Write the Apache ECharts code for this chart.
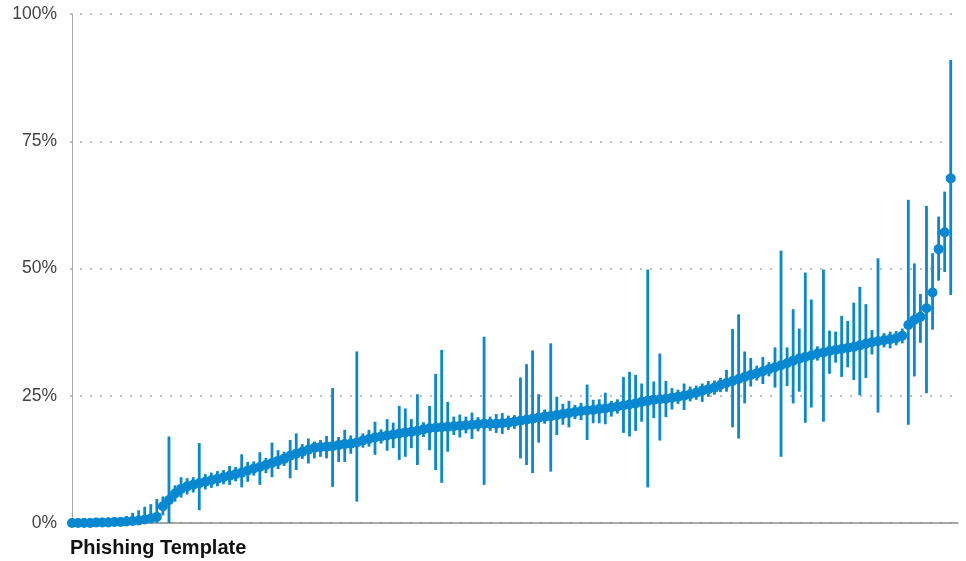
<!DOCTYPE html>
<html><head><meta charset="utf-8">
<script src="https://cdn.jsdelivr.net/npm/echarts@6/dist/echarts.min.js"></script>
<style>html,body{margin:0;padding:0;background:#fff}#c{width:966px;height:561px}</style>
</head><body><div id="c"></div>
<script>
// Click rate (%) per phishing template, sorted ascending
const clickRate = [0,0,0,0,0.1,0.1,0.1,0.2,0.2,0.3, 0.4,0.5,0.7,0.9,1.2,3.3,4.5,5.8,6.7,7.2, 7.5,7.8,8.1,8.4,8.7,9.0,9.3,9.6,9.9,10.3, 10.7,11.0,11.4,11.8,12.2,12.6,13.2,13.6,14.0,14.4, 14.8,14.9,15.0,15.1,15.3,15.5,15.6,15.8,16.2,16.5, 16.8,17.0,17.2,17.4,17.6,17.8,17.9,18.1,18.4,18.6, 18.7,18.8,18.9,19.0,19.1,19.2,19.3,19.4,19.5,19.5, 19.5,19.6,19.7,19.9,20.1,20.3,20.5,20.7,20.9,21.0, 21.2,21.4,21.6,21.8,22.0,22.1,22.2,22.4,22.5,22.7, 22.9,23.1,23.3,23.5,23.8,24.0,24.2,24.3,24.4,24.6, 24.8,25.0,25.3,25.6,26.0,26.3,26.6,27.1,27.5,27.9, 28.3,28.7,29.1,29.4,29.8,30.2,30.6,31.0,31.4,31.9, 32.3,32.6,32.9,33.3,33.5,33.8,34.0,34.2,34.4,34.6, 34.9,35.2,35.5,35.7,35.9,36.1,36.3,36.8,38.9,39.9, 40.5,42.2,45.3,53.8,57.1,67.7];
// Lower bound of the confidence interval (%)
const ciLow = [0,0,0,0,0,0,0,0,0,0, 0,0,0,0,0,1.5,0,4.2,5.0,5.6, 6.0,2.5,6.6,6.9,7.2,7.6,7.5,8.2,7.0,8.1, 9.3,7.5,9.8,9.0,10.6,11.2,8.8,10.4,12.6,11.7, 12.7,13.0,12.7,7.1,12.0,12.0,13.6,4.2,14.8,15.0, 13.4,15.6,14.2,14.7,12.4,13.0,14.7,11.4,16.9,14.3, 10.4,7.9,14.0,17.3,16.8,17.6,16.5,18.0,7.5,18.1, 17.7,17.5,18.3,18.5,12.7,11.4,9.8,15.8,19.5,10.1, 17.3,19.3,18.8,20.4,20.2,16.3,19.6,19.6,19.4,20.9, 21.5,17.7,17.0,18.1,19.9,7.0,20.6,16.2,20.8,22.3, 23.4,22.2,23.9,24.2,23.8,24.8,25.2,25.7,25.8,18.8, 16.6,23.5,26.8,28.0,27.3,28.8,26.6,13.0,26.9,23.5, 25.8,19.7,22.7,31.9,19.9,29.3,31.5,28.7,30.6,28.1, 25.1,28.5,33.1,21.7,34.5,34.3,34.9,35.3,19.3,28.8, 35.4,25.5,38.0,47.6,49.3,44.8];
// Upper bound of the confidence interval (%)
const ciHigh = [0.9,0.9,1.0,0.9,1.0,1.0,1.1,1.1,1.2,1.4, 2.0,2.5,3.2,3.7,4.7,5.2,17.0,7.4,9.0,8.8, 9.0,15.7,9.6,9.9,10.2,10.4,11.2,11.0,13.5,12.0, 12.1,13.9,12.8,15.8,14.3,14.0,16.3,17.6,15.5,16.6, 16.0,16.3,17.1,26.5,16.9,18.3,17.2,33.7,17.6,18.3, 19.9,18.4,20.4,19.7,23.0,22.5,20.4,25.3,19.8,23.0, 29.3,34.0,23.8,20.9,21.3,20.9,21.7,20.8,36.6,20.9, 21.4,21.6,21.1,21.2,28.6,31.2,33.9,25.3,22.3,35.3, 24.8,23.4,24.0,23.2,23.6,27.2,24.2,24.3,25.6,24.0, 24.3,28.7,29.7,29.1,27.4,49.8,27.8,33.3,27.9,26.5, 26.2,27.4,26.8,27.0,27.4,27.9,28.0,28.5,30.1,38.1, 41.0,33.7,32.4,30.9,32.6,31.6,34.5,53.5,34.5,42.0, 38.2,49.2,43.9,34.7,49.8,37.8,37.6,40.7,39.7,43.3, 46.4,43.0,37.9,52.0,37.3,37.6,37.7,38.2,63.5,51.0, 45.0,62.3,53.0,60.2,65.1,91.0];
const yTicks = [0, 25, 50, 75, 100];
const xTitle = 'Phishing Template';

const blue = '#0788d0';
const chart = echarts.init(document.getElementById('c'), null, {renderer: 'canvas'});
const points = clickRate.map((v, i) => [i, v]);
const bars = clickRate.map((v, i) => [i, ciLow[i], ciHigh[i]]);

chart.setOption({
  animation: false,
  grid: {left: 70, right: 8, top: 14, bottom: 38},
  title: {
    text: xTitle, left: 70, top: 538, padding: 0,
    textStyle: {fontSize: 20, fontWeight: 'bold', color: '#111', fontFamily: 'Liberation Sans'}
  },
  xAxis: {
    type: 'value', min: -0.33, max: 146.2,
    axisLine: {show: true, onZero: false, lineStyle: {color: '#8a8a8a', width: 1.5}},
    axisTick: {show: false}, axisLabel: {show: false}, splitLine: {show: false}
  },
  yAxis: {
    type: 'value', min: yTicks[0], max: yTicks[yTicks.length - 1], interval: 25,
    axisLine: {show: true, lineStyle: {color: '#a8a8a8', width: 1}},
    axisTick: {show: false},
    axisLabel: {formatter: '{value}%', color: '#444', fontSize: 17.5, fontFamily: 'Liberation Sans', margin: 13},
    splitLine: {show: true, lineStyle: {type: [2, 8], color: '#aaaaaa', width: 1.5}}
  },
  series: [
    {
      type: 'custom', data: bars, clip: true,
      encode: {x: 0, y: [1, 2]},
      renderItem: (params, api) => {
        const x = api.value(0);
        const a = api.coord([x, api.value(1)]);
        const b = api.coord([x, api.value(2)]);
        return {type: 'line', shape: {x1: a[0], y1: a[1], x2: b[0], y2: b[1]}, style: {stroke: blue, lineWidth: 2.8}};
      }
    },
    {type: 'scatter', data: points, symbolSize: 10, clip: true, itemStyle: {color: blue, opacity: 1}}
  ]
});
</script>
</body></html>
